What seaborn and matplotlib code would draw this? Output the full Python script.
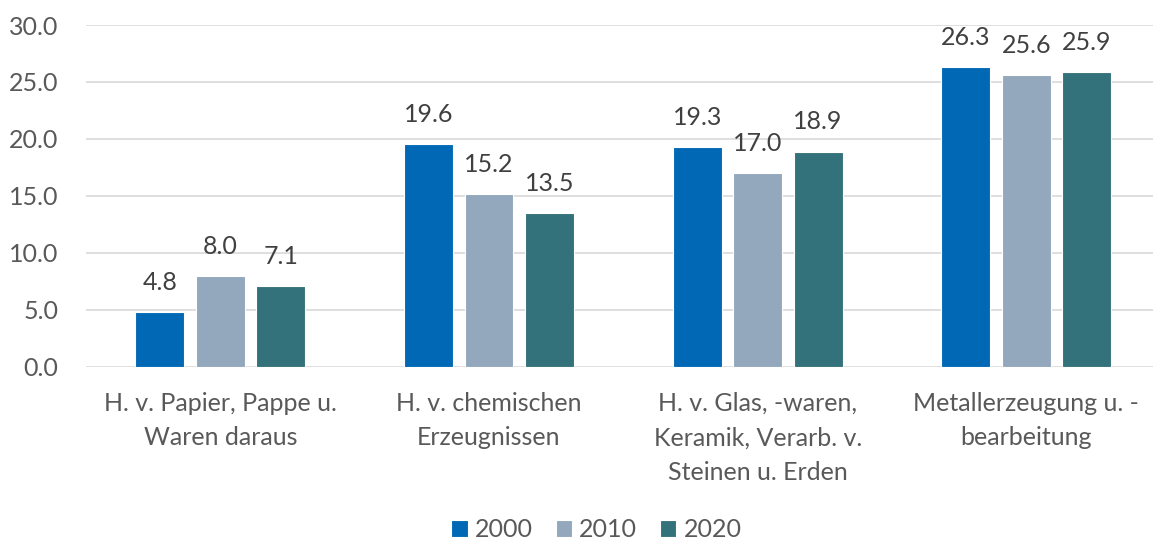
import matplotlib
matplotlib.use("Agg")
import matplotlib.pyplot as plt
import seaborn as sns
import pandas as pd

categories = ["H. v. Papier, Pappe u.\nWaren daraus",
              "H. v. chemischen\nErzeugnissen",
              "H. v. Glas, -waren,\nKeramik, Verarb. v.\nSteinen u. Erden",
              "Metallerzeugung u. -\nbearbeitung"]
years = ["2000", "2010", "2020"]
v2000 = [4.8, 19.6, 19.3, 26.3]
v2010 = [8.0, 15.2, 17.0, 25.6]
v2020 = [7.1, 13.5, 18.9, 25.9]
yticks = [0, 5, 10, 15, 20, 25, 30]
colors = ["#0068B4", "#93A8BD", "#33727B"]

rows = []
for yr, vals in zip(years, [v2000, v2010, v2020]):
    for c, v in zip(categories, vals):
        rows.append({"cat": c, "year": yr, "val": v})
df = pd.DataFrame(rows)

sns.set_theme(style="white")
plt.rcParams["font.family"] = ["Lato", "DejaVu Sans"]
txt = "#595959"

fig = plt.figure(figsize=(11.53, 5.40), dpi=100)
ax = fig.add_axes([0.0746, 0.3204, 0.932, 0.6333])
sns.barplot(data=df, x="cat", y="val", hue="year", palette=colors,
            saturation=1, width=0.675, gap=0.19, ax=ax, edgecolor="white",
            linewidth=0.8, errorbar=None)
ax.set_ylim(0, 30)
ax.set_xlim(-0.5, 3.5)
ax.set_yticks(yticks)
ax.set_yticklabels([f"{t:.1f}" for t in yticks], fontsize=18, color=txt)
ax.set_xticklabels(categories, fontsize=18, color=txt, linespacing=1.6)
ax.tick_params(axis="x", length=0, pad=18)
ax.tick_params(axis="y", length=0, pad=20)
ax.yaxis.grid(True, color="#D9D9D9", linewidth=1.2)
ax.set_axisbelow(True)
for s in ax.spines.values():
    s.set_visible(False)
ax.set_xlabel("")
ax.set_ylabel("")
for cont in ax.containers:
    ax.bar_label(cont, fmt="%.1f", fontsize=18, color="#404040", padding=13)
ax.legend(loc="lower center", bbox_to_anchor=(0.475, -0.575), ncol=3,
          frameon=False, fontsize=18, handlelength=0.65, handleheight=0.65,
          handletextpad=0.3, columnspacing=0.9, labelcolor=txt)
fig.savefig("out.png", dpi=100)
